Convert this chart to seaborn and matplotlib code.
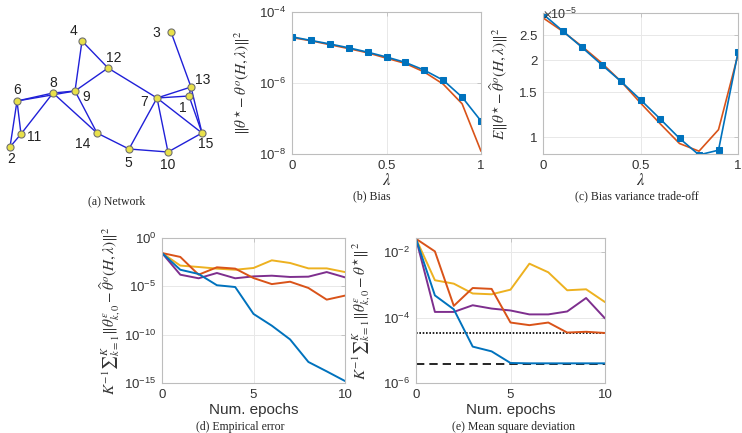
import numpy as np
import pandas as pd
import matplotlib
matplotlib.use("Agg")
import matplotlib.pyplot as plt
import seaborn as sns

# ---------------- data ----------------
# (a) network
node_ids = [1, 2, 3, 4, 5, 6, 7, 8, 9, 10, 11, 12, 13, 14, 15]
node_x = [189, 10, 171, 82, 129, 17, 157, 53, 75, 168, 21, 108, 191, 97, 202]
node_y = [96, 147, 32, 41, 149, 101, 98, 93, 91, 152, 134, 68, 87, 133, 133]
edges = [(4, 9), (4, 12), (12, 9), (12, 7), (3, 13), (13, 7), (1, 7), (13, 15),
         (1, 15), (13, 1), (7, 5), (7, 10), (7, 15), (10, 15), (5, 10), (14, 5),
         (9, 14), (8, 14), (6, 8), (6, 9), (8, 9), (6, 11), (6, 2), (2, 11), (8, 11)]

# (b) bias, (c) bias-variance trade-off
lam = [0.0, 0.1, 0.2, 0.3, 0.4, 0.5, 0.6, 0.7, 0.8, 0.9, 1.0]
bias_blue = [2.0e-5, 1.58e-5, 1.26e-5, 9.8e-6, 7.4e-6, 5.4e-6, 3.8e-6, 2.3e-6, 1.2e-6, 4.0e-7, 8.5e-8]
bias_orange = [1.9e-5, 1.55e-5, 1.2e-5, 9.3e-6, 7.1e-6, 5.0e-6, 3.55e-6, 2.04e-6, 9.3e-7, 2.6e-7, 1.2e-8]
tradeoff_blue = [3.02e-5, 2.60e-5, 2.24e-5, 1.92e-5, 1.65e-5, 1.40e-5, 1.18e-5, 0.99e-5, 0.853e-5, 0.89e-5, 2.14e-5]
tradeoff_orange = [2.92e-5, 2.59e-5, 2.26e-5, 1.95e-5, 1.65e-5, 1.36e-5, 1.13e-5, 0.945e-5, 0.882e-5, 1.07e-5, 2.10e-5]

# (d) empirical error, (e) mean square deviation
epochs = [0, 1, 2, 3, 4, 5, 6, 7, 8, 9, 10]
emp_blue = [2.8e-2, 5.2e-4, 1.9e-4, 1.3e-5, 8.5e-6, 1.4e-8, 8.5e-10, 3.2e-11, 1.5e-13, 1.6e-14, 1.6e-15]
emp_orange = [2.8e-2, 1.1e-2, 1.6e-4, 9.3e-4, 6.8e-4, 7.2e-5, 1.7e-5, 3.0e-5, 6.8e-6, 4.2e-7, 1.1e-6]
emp_yellow = [2.8e-2, 1.4e-3, 1.0e-3, 6.8e-4, 5.2e-4, 7.9e-4, 4.9e-3, 2.6e-3, 7.2e-4, 7.2e-4, 3.0e-4]
emp_purple = [2.8e-2, 1.6e-4, 6.8e-5, 2.4e-4, 6.8e-5, 1.07e-4, 1.26e-4, 9.3e-5, 1.0e-4, 3.0e-4, 8.5e-5]

msd_blue = [2.6e-2, 4.8e-4, 1.8e-4, 1.3e-5, 9.3e-6, 4.1e-6, 4.0e-6, 4.0e-6, 4.0e-6, 4.0e-6, 4.0e-6]
msd_orange = [2.6e-2, 1.07e-2, 2.3e-4, 8.1e-4, 7.6e-4, 7.1e-5, 5.9e-5, 7.1e-5, 3.5e-5, 3.7e-5, 3.4e-5]
msd_yellow = [2.6e-2, 1.4e-3, 1.1e-3, 5.5e-4, 5.2e-4, 7.2e-4, 4.5e-3, 2.45e-3, 6.9e-4, 7.4e-4, 3.0e-4]
msd_purple = [2.6e-2, 1.5e-4, 1.5e-4, 2.4e-4, 1.9e-4, 1.66e-4, 1.26e-4, 1.26e-4, 1.55e-4, 4.0e-4, 9.5e-5]
msd_dashed = 3.9e-6
msd_dotted = 3.3e-5

series_names = ["blue", "orange", "yellow", "purple"]
colors = {"blue": "#0072BD", "orange": "#D95319", "yellow": "#EDB120", "purple": "#7E2F8E"}

# ---------------- style ----------------
sns.set_style("white")
plt.rcParams["font.family"] = ["Liberation Sans", "DejaVu Sans"]
plt.rcParams["mathtext.fontset"] = "stix"

W, H = 742, 433
fig = plt.figure(figsize=(W / 100, H / 100), dpi=100)

def px_axes(l, r, t, b):
    return fig.add_axes([l / W, 1 - b / H, (r - l) / W, (b - t) / H])

SPINE = "#bdbdbd"
TICK = "#333333"
GRID = "#e8e8e8"

def style_axes(ax):
    for s in ax.spines.values():
        s.set_color(SPINE)
        s.set_linewidth(0.8)
    ax.tick_params(direction="in", length=3, width=0.6, color=SPINE,
                   labelsize=9.5, labelcolor=TICK, top=True, right=True, pad=4)
    ax.tick_params(which="minor", length=0)
    ax.grid(True, color=GRID, linewidth=0.7)
    ax.set_axisbelow(True)

serif = ["Liberation Serif", "DejaVu Serif"]

# ---------------- (a) network ----------------
axa = px_axes(0, 230, 0, 180)
axa.set_xlim(0, 230)
axa.set_ylim(180, 0)
axa.axis("off")
pos = {n: (x, y) for n, x, y in zip(node_ids, node_x, node_y)}
for u, v in edges:
    axa.plot([pos[u][0], pos[v][0]], [pos[u][1], pos[v][1]], color="#2020d8", lw=1.0, zorder=1)
sns.scatterplot(x=node_x, y=node_y, ax=axa, color="#e8e04a", edgecolor="#707070",
                s=26, linewidth=0.8, zorder=3, legend=False)
label_off = {1: (-6, 12), 2: (1, 12), 3: (-15, 1), 4: (-8, -10), 5: (-1, 14), 6: (0, -11),
             7: (-13, 4), 8: (0, -10), 9: (11, 6), 10: (0, 13), 11: (13, 3), 12: (6, -10),
             13: (12, -7), 14: (-14, 11), 15: (4, 11)}
for n in node_ids:
    dx, dy = label_off[n]
    axa.text(pos[n][0] + dx, pos[n][1] + dy, str(n), fontsize=10, ha="center", va="center", color="#222222")
fig.text(117 / W, 1 - 201 / H, "(a) Network", family=serif, fontsize=8.5, ha="center", va="center")

# ---------------- (b) bias ----------------
axb = px_axes(292, 481, 12, 154)
style_axes(axb)
sns.lineplot(x=lam, y=bias_orange, ax=axb, color=colors["orange"], lw=1.2)
sns.lineplot(x=lam, y=bias_blue, ax=axb, color=colors["blue"], lw=1.2, marker="s",
             markersize=5, markeredgecolor=colors["blue"])
axb.set_yscale("log")
axb.set_xlim(0, 1)
axb.set_ylim(1e-8, 1e-4)
axb.set_xticks([0, 0.5, 1])
axb.set_xticklabels(["0", "0.5", "1"])
axb.set_yticks([1e-8, 1e-6, 1e-4])
axb.yaxis.set_minor_locator(matplotlib.ticker.NullLocator())
axb.set_xlabel(r"$\lambda$", fontsize=12, labelpad=0)
axb.set_ylabel(r"$\|\theta^{\star}-\theta^{o}(H,\lambda)\|^2$", fontsize=11, color="#333333")
axb.yaxis.set_label_coords(-0.21, 0.5)
fig.text(372 / W, 1 - 196 / H, "(b) Bias", family=serif, fontsize=8.5, ha="center", va="center")

# ---------------- (c) trade-off ----------------
axc = px_axes(543, 738, 13, 154)
style_axes(axc)
sns.lineplot(x=lam, y=tradeoff_orange, ax=axc, color=colors["orange"], lw=1.2)
sns.lineplot(x=lam, y=tradeoff_blue, ax=axc, color=colors["blue"], lw=1.2, marker="s",
             markersize=5, markeredgecolor=colors["blue"])
axc.set_yscale("log")
axc.set_xlim(0, 1)
axc.set_ylim(0.86e-5, 3.05e-5)
axc.set_xticks([0, 0.5, 1])
axc.set_xticklabels(["0", "0.5", "1"])
axc.yaxis.set_minor_locator(matplotlib.ticker.NullLocator())
axc.set_yticks([1e-5, 1.5e-5, 2e-5, 2.5e-5])
axc.set_yticklabels(["1", "1.5", "2", "2.5"])
axc.text(0.0, 1.0, r"$\times\mathdefault{10^{-5}}$", transform=axc.transAxes, fontsize=9,
         color="#333333", ha="left", va="center")
axc.set_xlabel(r"$\lambda$", fontsize=12, labelpad=0)
axc.set_ylabel(r"$E\|\theta^{\star}-\widehat{\theta}^{o}(H,\lambda)\|^2$", fontsize=11, color="#333333")
axc.yaxis.set_label_coords(-0.17, 0.5)
fig.text(637 / W, 1 - 196 / H, "(c) Bias variance trade-off", family=serif, fontsize=8.5,
         ha="center", va="center")

# ---------------- (d) / (e) ----------------
def long_df(vals):
    rows = []
    for name, v in zip(series_names, vals):
        for e, y in zip(epochs, v):
            rows.append({"epoch": e, "value": y, "series": name})
    return pd.DataFrame(rows)

df_d = long_df([emp_blue, emp_orange, emp_yellow, emp_purple])
df_e = long_df([msd_blue, msd_orange, msd_yellow, msd_purple])

axd = px_axes(162, 345, 238, 383)
style_axes(axd)
sns.lineplot(data=df_d, x="epoch", y="value", hue="series", palette=colors,
             hue_order=["yellow", "purple", "orange", "blue"], lw=1.4, ax=axd, legend=False)
axd.set_yscale("log")
axd.set_xlim(0, 10)
axd.set_ylim(1e-15, 1e0)
axd.set_xticks([0, 5, 10])
axd.set_yticks([1e-15, 1e-10, 1e-5, 1e0])
axd.yaxis.set_minor_locator(matplotlib.ticker.NullLocator())
axd.set_xlabel("Num. epochs", fontsize=11, color="#333333", labelpad=2)
axd.set_ylabel(r"$K^{-1}{\sum}_{k=1}^{K}\|\theta^{\epsilon}_{k,0}-\widehat{\theta}^{o}(H,\lambda)\|^2$",
               fontsize=11, color="#333333")
axd.yaxis.set_label_coords(-0.22, 0.5)
fig.text(240 / W, 1 - 427 / H, "(d) Empirical error", family=serif, fontsize=8.5, ha="center", va="center")

axe = px_axes(416, 605, 238, 383)
style_axes(axe)
axe.axhline(msd_dashed, color="black", lw=1.2, ls=(0, (5, 3)), zorder=2)
axe.axhline(msd_dotted, color="black", lw=1.2, ls=(0, (1, 1)), zorder=2)
sns.lineplot(data=df_e, x="epoch", y="value", hue="series", palette=colors,
             hue_order=["yellow", "purple", "orange", "blue"], lw=1.4, ax=axe, legend=False)
axe.set_yscale("log")
axe.set_xlim(0, 10)
axe.set_ylim(1e-6, 2.75e-2)
axe.set_xticks([0, 5, 10])
axe.set_yticks([1e-6, 1e-4, 1e-2])
axe.yaxis.set_minor_locator(matplotlib.ticker.NullLocator())
axe.set_xlabel("Num. epochs", fontsize=11, color="#333333", labelpad=2)
axe.set_ylabel(r"$K^{-1}{\sum}_{k=1}^{K}\|\theta^{\epsilon}_{k,0}-\theta^{\star}\|^2$",
               fontsize=11, color="#333333")
axe.yaxis.set_label_coords(-0.23, 0.5)
fig.text(514 / W, 1 - 427 / H, "(e) Mean square deviation", family=serif, fontsize=8.5,
         ha="center", va="center")

fig.savefig("out.png", dpi=100)
